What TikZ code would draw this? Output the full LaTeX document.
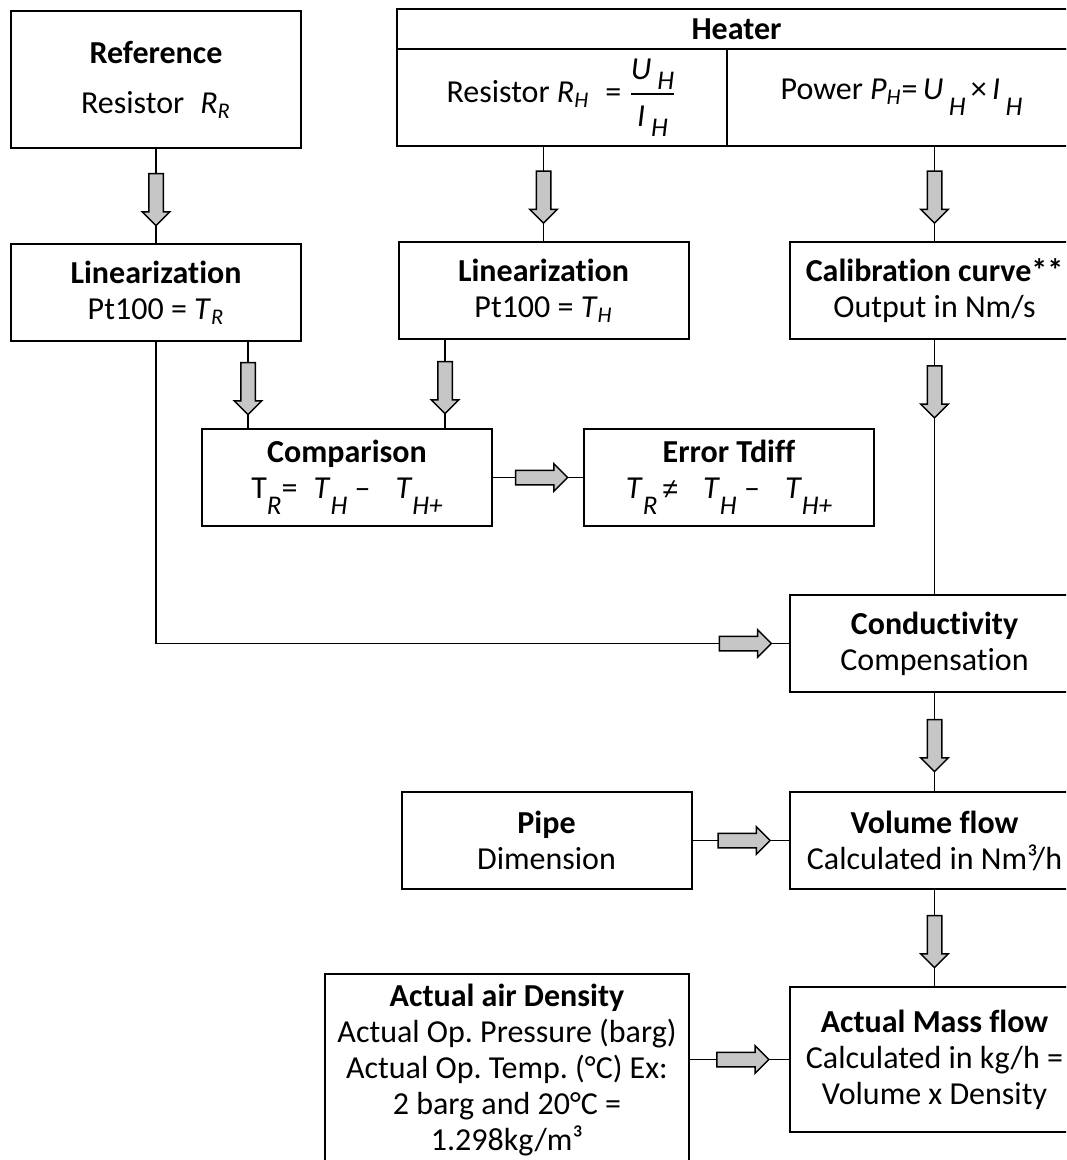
\documentclass[tikz,border=0pt]{standalone}
\usepackage{amsmath}
\usepackage{fontspec}
\setmainfont{Carlito}[Ligatures={NoCommon,NoContextual}]
\newfontfamily\symfont{Liberation Sans}
\usepackage{tikz}
\usetikzlibrary{positioning,shapes.arrows}

\newcommand{\dsub}[2][8pt]{\raisebox{-#1}{\fontsize{13.5}{13.5}\selectfont\itshape #2}}
\frenchspacing

\begin{document}
\begin{tikzpicture}[
  x=0.5pt, y=-0.5pt,
  box/.style ={draw, line width=1pt, fill=white, align=center,
               font=\fontsize{16}{18}\selectfont, inner sep=2pt,
               minimum width=145pt, minimum height=48.5pt},
  cell/.style={box, anchor=north west, outer sep=0pt},
  blk/.style ={draw, line width=0.75pt, fill=gray!45, single arrow,
               single arrow head extend=3.25pt, minimum width=13pt,
               text height=3.25pt, text depth=3.25pt,
               minimum height=26pt, inner sep=0pt, sloped, allow upside down},
  link/.style={line width=0.75pt},
  node distance=48pt
]
\useasboundingbox (0,0) rectangle (1066,1160);
\clip (0,0) rectangle (1066,1160);

%% ---- Reference -----------------------------------------------------
\node[box, minimum height=68.5pt] (ref) at (156,79.5)
     {\textbf{Reference}\\[7pt]
      Resistor\enspace\textit{R}\textsubscript{\textit{R}}};

%% ---- Heater --------------------------------------------------------
\node[cell, minimum width=340pt, minimum height=20pt]
     (heater) at (396.5,9) {\textbf{Heater}};
\node[cell, minimum width=165pt, inner sep=0pt] (heatR) at (heater.south west)
     {Resistor \textit{R}\textsubscript{\textit{H}}\; =
      $\dfrac{\textit{U}\,\dsub[5pt]{H}}{\textit{I}\,\dsub[5pt]{H}}$};
\node[cell, minimum width=175pt, minimum height=48.5pt] (heatP) at (heatR.north east)
     {Power \textit{P}\textsubscript{\textit{H}}=\,\textit{U}\,\dsub{H}\,×\,\textit{I}\,\dsub{H}};

%% ---- Linearization / calibration -----------------------------------
\node[box, below=47pt of ref] (linR)
     {\textbf{Linearization}\\Pt100 = \textit{T}\textsubscript{\textit{R}}};
\node[box] (linH) at (543.5,290.5)
     {\textbf{Linearization}\\Pt100 = \textit{T}\textsubscript{\textit{H}}};
\node[box, right=49.5pt of linH] (calib)
     {\textbf{Calibration curve**}\\Output in Nm/s};

%% ---- Comparison ----------------------------------------------------
\node[box] (comp) at (347,477.5)
     {\textbf{Comparison}\\
      T\dsub{R}=\; \textit{T}\dsub{H} –\;\; \textit{T}\dsub{H+}};
\node[box, right=45pt of comp] (err)
     {\textbf{Error Tdiff}\\
      \textit{T}\dsub{R}\,{\symfont\fontsize{14}{14}\selectfont ≠}\;\; \textit{T}\dsub{H} –\;\; \textit{T}\dsub{H+}};

%% ---- Flow calculation ----------------------------------------------
\node[box, below=127pt of calib] (cond)
     {\textbf{Conductivity}\\Compensation};
\node[box, below=49pt of cond] (vol)
     {\textbf{Volume flow}\\Calculated in Nm³/h};
\node[box, left=48pt of vol] (pipe)
     {\textbf{Pipe}\\Dimension};
\node[box, below=48pt of vol, minimum height=72.5pt] (mass)
     {\textbf{Actual Mass flow}\\Calculated in kg/h =\\Volume x Density};
\node[box, minimum width=182pt, minimum height=96pt] (dens) at (507,1070)
     {\textbf{Actual air Density}\\Actual Op. Pressure (barg)\\
      Actual Op. Temp. (°C) Ex:\\2 barg and 20°C =\\1.298kg/m³};

%% ---- Connectors ----------------------------------------------------
\coordinate (cR) at (248,0);
\coordinate (cH) at (445,0);

\draw[link] (ref) -- node[blk]{} (linR);
\draw[link] (heatR.south -| linH) -- node[blk]{} (linH);
\draw[link] (heatP.south -| calib) -- node[blk]{} (calib);
\draw[link] (linR.south -| cR) -- node[blk]{} (comp.north -| cR);
\draw[link] (linH.south -| cH) -- node[blk]{} (comp.north -| cH);
\draw[link] (comp) -- node[blk]{} (err);
\draw[link] (linR) |- node[blk, pos=0.963]{} (cond);
\draw[link] (calib) -- node[blk, pos=0.19]{} (cond);
\draw[link] (cond) -- node[blk]{} (vol);
\draw[link] (pipe) -- node[blk]{} (vol);
\draw[link] (vol)  -- node[blk]{} (mass);
\draw[link] (dens.east |- mass) -- node[blk]{} (mass);

\end{tikzpicture}
\end{document}
